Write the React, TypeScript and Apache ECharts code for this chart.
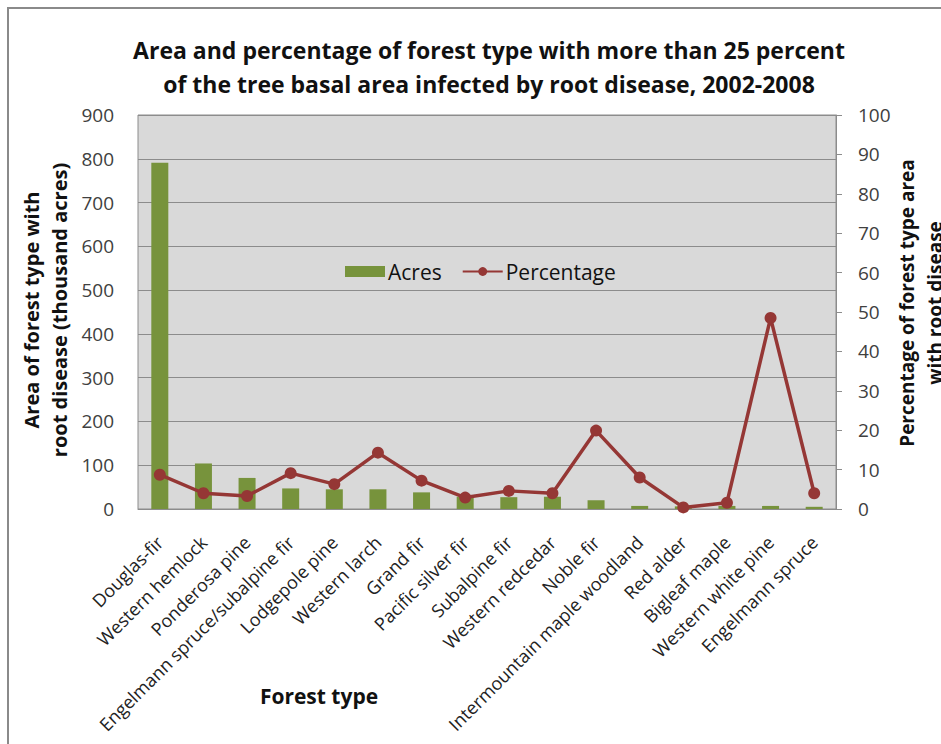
import React, { useEffect, useRef } from "react";
import * as echarts from "echarts";

const categories = [
  "Douglas-fir",
  "Western hemlock",
  "Ponderosa pine",
  "Engelmann spruce/subalpine fir",
  "Lodgepole pine",
  "Western larch",
  "Grand fir",
  "Pacific silver fir",
  "Subalpine fir",
  "Western redcedar",
  "Noble fir",
  "Intermountain maple woodland",
  "Red alder",
  "Bigleaf maple",
  "Western white pine",
  "Engelmann spruce",
];

const acres = [791, 104, 71, 47, 45, 45, 38, 28, 27, 28, 20, 7, 6, 7, 7, 5];
const percentage = [8.7, 4.0, 3.3, 9.1, 6.3, 14.3, 7.2, 2.9, 4.6, 4.0, 19.9, 8.0, 0.4, 1.6, 48.5, 4.0];

const titleLines = [
  "Area and percentage of forest type with more than 25 percent",
  "of the tree basal area infected by root disease, 2002-2008",
];
const leftNameLines = ["Area of forest type with", "root disease (thousand acres)"];
const rightNameLines = ["Percentage of forest type area", "with root disease"];
const xName = "Forest type";

const FONT = "'Open Sans', sans-serif";
const GREEN = "#77933C";
const RED = "#953735";

export default function App() {
  const ref = useRef<HTMLDivElement>(null);
  useEffect(() => {
    if (!ref.current) return;
    const chart = echarts.init(ref.current, null, { renderer: "svg" });
    chart.setOption({
      animation: false,
      backgroundColor: "#ffffff",
      textStyle: { fontFamily: FONT },
      title: {
        text: titleLines.join("\n"),
        left: 484,
        top: 28,
        textAlign: "center",
        textStyle: {
          fontFamily: FONT,
          fontSize: 23,
          fontWeight: "bold",
          color: "#111",
          lineHeight: 34,
        },
      },
      legend: {
        left: 340,
        top: 256,
        itemWidth: 40,
        itemHeight: 11,
        itemGap: 20,
        textStyle: { fontFamily: FONT, fontSize: 21, color: "#111", padding: [0, 0, 0, -2] },
        data: [
          { name: "Acres", icon: "rect" },
          { name: "Percentage" },
        ],
      },
      grid: {
        left: 138,
        top: 115,
        width: 698,
        height: 394,
        show: true,
        backgroundColor: "#D9D9D9",
        borderColor: "#8c8c8c",
        borderWidth: 1,
      },
      xAxis: {
        type: "category",
        data: categories,
        boundaryGap: true,
        axisLine: { show: true, lineStyle: { color: "#8c8c8c" } },
        axisTick: { show: false },
        axisLabel: {
          rotate: 45,
          interval: 0,
          margin: 30,
          fontFamily: FONT,
          fontSize: 18,
          color: "#222",
        },
      },
      yAxis: [
        {
          type: "value",
          min: 0,
          max: 900,
          interval: 100,
          axisLine: { show: false },
          axisTick: { show: false },
          splitLine: { show: true, lineStyle: { color: "#8c8c8c", width: 1 } },
          axisLabel: { margin: 24, fontFamily: FONT, fontSize: 19, color: "#404040" },
        },
        {
          type: "value",
          min: 0,
          max: 100,
          interval: 10,
          position: "right",
          axisLine: { show: true, lineStyle: { color: "#8c8c8c" } },
          axisTick: { show: true, inside: false, length: 6, lineStyle: { color: "#8c8c8c" } },
          splitLine: { show: false },
          axisLabel: { margin: 22, fontFamily: FONT, fontSize: 19, color: "#404040" },
        },
      ],
      series: [
        {
          name: "Acres",
          type: "bar",
          data: acres,
          yAxisIndex: 0,
          barWidth: 17,
          itemStyle: { color: GREEN },
        },
        {
          name: "Percentage",
          type: "line",
          data: percentage,
          yAxisIndex: 1,
          symbol: "circle",
          symbolSize: 12,
          lineStyle: { color: RED, width: 3.5 },
          itemStyle: { color: RED },
        },
      ],
      graphic: [
        {
          type: "rect",
          z: -1,
          shape: { x: 8, y: 8, width: 1000, height: 1000 },
          style: { fill: "none", stroke: "#8a8a8a", lineWidth: 2 },
        },
        {
          type: "text",
          x: 319,
          y: 696,
          style: {
            text: xName,
            fontFamily: FONT,
            fontSize: 21,
            fontWeight: "bold",
            fill: "#111",
            textAlign: "center",
            textVerticalAlign: "middle",
          },
        },
        ...leftNameLines.map((t, i) => ({
          type: "text",
          x: 31 + i * 28,
          y: 310,
          rotation: Math.PI / 2,
          style: {
            text: t,
            fontFamily: FONT,
            fontSize: 20,
            fontWeight: "bold",
            fill: "#111",
            textAlign: "center",
            textVerticalAlign: "middle",
          },
        })),
        ...rightNameLines.map((t, i) => ({
          type: "text",
          x: 907 + i * 28,
          y: 303,
          rotation: Math.PI / 2,
          style: {
            text: t,
            fontFamily: FONT,
            fontSize: 19,
            fontWeight: "bold",
            fill: "#111",
            textAlign: "center",
            textVerticalAlign: "middle",
          },
        })),
      ],
    });
    return () => chart.dispose();
  }, []);
  return (
    <div
      ref={ref}
      style={{ position: "absolute", left: 0, top: 0, width: 941, height: 744 }}
    />
  );
}
